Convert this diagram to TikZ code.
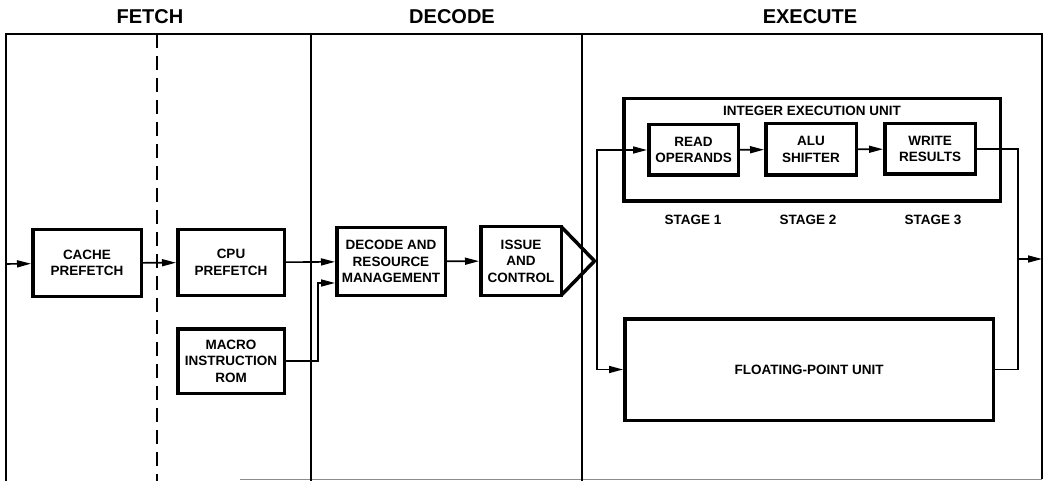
\documentclass[tikz,border=0pt]{standalone}
\usepackage{fontspec}
\setmainfont{Liberation Sans}
\usetikzlibrary{arrows.meta}

\begin{document}
\begin{tikzpicture}[x=1pt,y=-1pt,box/.style={draw,line width=3.5pt,align=center,inner sep=2pt,font=\fontsize{13.5}{16.5}\selectfont\bfseries},lab/.style={font=\fontsize{13.5}{16.5}\selectfont\bfseries},head/.style={font=\fontsize{20}{24}\selectfont\bfseries},fw/.style={-{Triangle[length=14pt,width=7pt]},line width=1.6pt},ln/.style={line width=1.6pt}]
\useasboundingbox (0,0) rectangle (1044,481);

\draw[ln] (6,481)--(6,34)--(1042,34)--(1042,479);
\draw[line width=.8pt,black!45] (240,479)--(1042,479);
\draw[ln,dash pattern=on 14pt off 8pt] (157,34)--(157,481);
\draw[ln] (311,34)--(311,481);\draw[ln] (582,34)--(582,481);

\node[head] (hf) at(150,17) {FETCH};
\node[head] (hd) at(452,17) {DECODE};
\node[head] (he) at(810,17) {EXECUTE};

\node[box,minimum width=108.5,minimum height=66.5] (cache) at(87,263) {CACHE\\PREFETCH};
\node[box,minimum width=106.5,minimum height=65.5] (cpu) at(231,262.5) {CPU\\PREFETCH};
\node[box,minimum width=106.5,minimum height=64.5] (rom) at(231,361) {MACRO\\INSTRUCTION\\ROM};
\node[box,minimum width=108.5,minimum height=67.5] (decode) at(391,261.5) {DECODE AND\\RESOURCE\\MANAGEMENT};
\node[box,minimum width=80.5,minimum height=68.5] (issue) at(521,261) {ISSUE\\AND\\CONTROL};
\draw[line width=3.5pt,line join=miter] (561.25,226.75)--(594.5,261)--(561.25,295.25);

\node[box,minimum width=376.5,minimum height=102.5] (ieu) at(812,150) {};
\node[lab] (ieut) at(812,111) {INTEGER EXECUTION UNIT};
\node[box,minimum width=89.5,minimum height=50.5] (read) at(693.5,150) {READ\\OPERANDS};
\node[box,minimum width=90.5,minimum height=51.5] (alu) at(811,149.5) {ALU\\SHIFTER};
\node[box,minimum width=90.5,minimum height=50.5] (write) at(930,149) {WRITE\\RESULTS};
\node[lab] (s1) at(693,220) {STAGE 1};
\node[lab] (s2) at(808,220) {STAGE 2};
\node[lab] (s3) at(933,220) {STAGE 3};
\node[box,minimum width=368.5,minimum height=101.5] (fpu) at(809,369.5) {FLOATING-POINT UNIT};

\coordinate (in) at(6,264);
\coordinate (mj) at(318,283);
\coordinate (tip) at(597,261);
\coordinate (jn) at(1018,259);
\coordinate (out) at(1042,259);

\draw[fw] (in)--(cache);\draw[fw] (cache)--(cpu);\draw[fw] (cpu)--(decode);
\draw[fw] (rom.east)-|(mj)--(mj-|decode.west);
\draw[fw] (decode)--(issue);
\draw[fw] (tip)|-(read);\draw[fw] (tip)|-(fpu);
\draw[fw] (read)--(alu);\draw[fw] (alu)--(write);
\draw[ln] (write.east)-|(jn)|-(fpu.east);
\draw[fw] (jn)--(out);
\end{tikzpicture}
\end{document}
